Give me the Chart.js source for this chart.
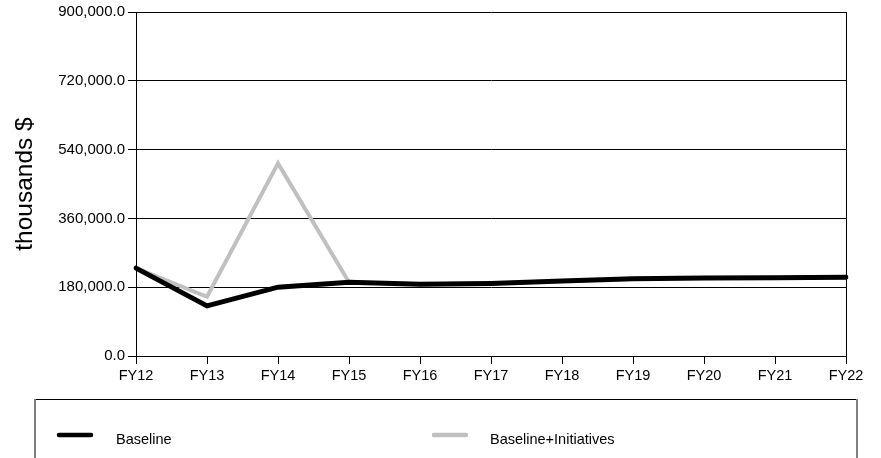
<!DOCTYPE html>
<html>
<head>
<meta charset="utf-8">
<title>Baseline vs Baseline+Initiatives</title>
<script src="https://cdn.jsdelivr.net/npm/chart.js@4/dist/chart.umd.min.js"></script>
<style>
  html, body { margin: 0; padding: 0; background: #fff; }
  canvas { display: block; }
</style>
</head>
<body>
<canvas id="chart" width="881" height="458"></canvas>
<script>
// Fiscal years on the x axis
const fiscalYears = ['FY12', 'FY13', 'FY14', 'FY15', 'FY16', 'FY17', 'FY18', 'FY19', 'FY20', 'FY21', 'FY22'];

// Spending in thousands of dollars
const baseline = [230000, 131000, 180000, 193000, 188000, 190000, 196000, 202000, 204000, 205000, 206000];
const baselineInitiatives = [230000, 155000, 504000, 193000, 188000, 190000, 196000, 202000, 204000, 205000, 206000];

// Value axis ticks
const yTicks = [0, 180000, 360000, 540000, 720000, 900000];

const seriesNames = ['Baseline', 'Baseline+Initiatives'];
const seriesColors = ['#000000', '#c0c0c0'];

const FONT = '"Liberation Sans", Arial, sans-serif';

// Boxed legend below the plot, drawn on the canvas
const boxedLegend = {
  id: 'boxedLegend',
  afterDraw(chart) {
    const ctx = chart.ctx;
    const left = 34, right = 857, top = 399, bottom = 470;
    ctx.save();
    ctx.lineWidth = 1;
    ctx.strokeStyle = '#000';
    ctx.beginPath();
    ctx.moveTo(left, top + 0.5);
    ctx.lineTo(right + 1, top + 0.5);
    ctx.stroke();
    ctx.strokeStyle = '#808080';
    ctx.lineWidth = 2;
    ctx.beginPath();
    ctx.moveTo(left + 1, top);
    ctx.lineTo(left + 1, bottom);
    ctx.moveTo(right, top);
    ctx.lineTo(right, bottom);
    ctx.stroke();

    const entries = [
      { x0: 59, x1: 91, tx: 116 },
      { x0: 434, x1: 466, tx: 490 }
    ];
    const markerY = 435;
    chart.data.datasets.forEach((ds, i) => {
      const e = entries[i];
      ctx.strokeStyle = ds.borderColor;
      ctx.lineWidth = 4.5;
      ctx.lineCap = 'round';
      ctx.beginPath();
      ctx.moveTo(e.x0, markerY);
      ctx.lineTo(e.x1, markerY);
      ctx.stroke();
      ctx.fillStyle = '#000';
      ctx.font = '14.5px ' + FONT;
      ctx.textBaseline = 'middle';
      ctx.textAlign = 'left';
      ctx.fillText(ds.label, e.tx, 440);
    });
    ctx.restore();
  }
};

new Chart(document.getElementById('chart'), {
  type: 'line',
  data: {
    labels: fiscalYears,
    datasets: [
      {
        label: seriesNames[0],
        data: baseline,
        borderColor: seriesColors[0],
        backgroundColor: seriesColors[0],
        borderWidth: 5,
        pointRadius: 0,
        tension: 0,
        borderCapStyle: 'round',
        borderJoinStyle: 'miter'
      },
      {
        label: seriesNames[1],
        data: baselineInitiatives,
        borderColor: seriesColors[1],
        backgroundColor: seriesColors[1],
        borderWidth: 4,
        pointRadius: 0,
        tension: 0,
        borderJoinStyle: 'miter'
      }
    ]
  },
  options: {
    responsive: false,
    animation: false,
    devicePixelRatio: 1,
    layout: { padding: { left: 0, top: 12, right: 35, bottom: 58 } },
    plugins: {
      legend: { display: false },
      tooltip: { enabled: false }
    },
    scales: {
      x: {
        type: 'category',
        offset: false,
        afterFit(scale) { scale.height = 44; },
        border: { display: true, color: '#000', width: 1 },
        grid: {
          drawOnChartArea: true,
          drawTicks: true,
          tickLength: 8,
          tickColor: '#000',
          color: (c) => (c.index === fiscalYears.length - 1 ? '#000' : 'rgba(0,0,0,0)')
        },
        ticks: {
          color: '#000',
          font: { family: FONT, size: 14.5 },
          padding: 3,
          maxRotation: 0,
          autoSkip: false
        }
      },
      y: {
        min: yTicks[0],
        max: yTicks[yTicks.length - 1],
        afterFit(scale) { scale.width = 136; },
        afterBuildTicks(scale) { scale.ticks = yTicks.map(v => ({ value: v })); },
        border: { display: true, color: '#000', width: 1 },
        grid: {
          color: '#000',
          lineWidth: 1,
          drawTicks: true,
          tickLength: 8,
          tickColor: '#000'
        },
        ticks: {
          color: '#000',
          font: { family: FONT, size: 15 },
          padding: 3,
          callback: (v) => Number(v).toLocaleString('en-US', { minimumFractionDigits: 1, maximumFractionDigits: 1 })
        },
        title: {
          display: true,
          text: 'thousands $',
          color: '#000',
          font: { family: FONT, size: 24.5 },
          padding: { top: 11, bottom: 0 }
        }
      }
    }
  },
  plugins: [boxedLegend]
});
</script>
</body>
</html>
